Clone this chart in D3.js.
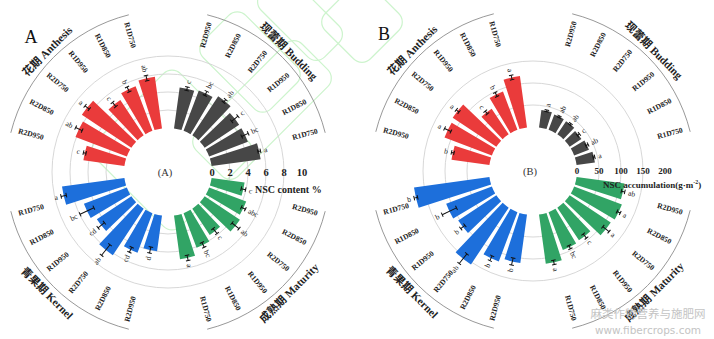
<!DOCTYPE html>
<html>
<head>
<meta charset="utf-8">
<script src="https://cdn.jsdelivr.net/npm/d3@7"></script>
<style>
  html, body { margin: 0; padding: 0; background: #fff; }
  svg { display: block; }
</style>
</head>
<body>
<svg id="chart" width="714" height="339"></svg>
<script>
// Treatments, listed clockwise inside every stage
const treatments = ["R2D950", "R2D850", "R2D750", "R1D950", "R1D850", "R1D750"];
// Growth stages, clockwise starting at the left (9 o'clock)
const stages = ["花期 Anthesis", "现蕾期 Budding", "成熟期 Maturity", "青果期 Kernel"];

// Panel A: NSC content (%)
const anthesisA = [4.6, 6.1, 6.6, 4.7, 5.3, 5.8];
const buddingA  = [4.6, 4.8, 5.2, 4.6, 4.6, 5.5];
const maturityA = [3.7, 4.4, 4.7, 3.5, 4.1, 4.9];
const kernelA   = [4.0, 4.7, 6.2, 4.6, 5.1, 7.0];
const anthesisErrA = [0.15, 0.4, 0.3, 0.3, 0.3, 0.3];
const buddingErrA  = [0.2, 0.25, 0.2, 0.45, 0.4, 0.15];
const maturityErrA = [0.25, 0.25, 0.5, 0.35, 0.3, 0.3];
const kernelErrA   = [0.35, 0.3, 0.75, 0.45, 0.85, 0.3];
const anthesisSigA = ["c", "ab", "a", "c", "b", "ab"];
const buddingSigA  = ["c", "bc", "ab", "c", "bc", "a"];
const maturitySigA = ["c", "abc", "ab", "c", "bc", "a"];
const kernelSigA   = ["d", "cd", "ab", "cd", "bc", "a"];
const ticksA = [0, 2, 4, 6, 8, 10];

// Panel B: NSC accumulation (g·m-2)
const anthesisB = [87, 115, 119, 70, 93, 118];
const buddingB  = [40, 37, 36, 32, 36, 42];
const maturityB = [110, 116, 112, 89, 92, 113];
const kernelB   = [111, 120, 155, 104, 111, 173];
const anthesisErrB = [3, 8, 4, 4, 5, 5];
const buddingErrB  = [2, 2, 2, 3, 3, 2];
const maturityErrB = [4, 4, 9, 6, 4, 5];
const kernelErrB   = [8, 6, 14, 6, 18, 4];
const anthesisSigB = ["b", "a", "a", "c", "b", "a"];
const buddingSigB  = ["a", "ab", "ab", "c", "ab", "a"];
const maturitySigB = ["ab", "a", "a", "c", "bc", "a"];
const kernelSigB   = ["b", "b", "ab", "b", "b", "b"];
const ticksB = [0, 50, 100, 150, 200];

const palette = ["#ea3b3b", "#474747", "#31a465", "#1d6fdb"];
const serif = "'Liberation Serif','Times New Roman','Noto Sans CJK SC',serif";

const svg = d3.select("#chart");
svg.append("rect").attr("width", 714).attr("height", 339).attr("fill", "#fff");

// faint site watermark outlines
const wm = svg.append("g").attr("fill", "none").attr("stroke", "#cdf4cd").attr("stroke-width", 1.2);
[[172, 150, 120, 120], [250, 62, 96, 60], [300, 18, 90, 44], [262, 110, 60, 150], [362, 22, 64, 64]]
  .forEach(([x, y, w, h]) => {
    wm.append("rect").attr("x", -w / 2).attr("y", -h / 2).attr("width", w).attr("height", h)
      .attr("rx", 12).attr("transform", `translate(${x},${y}) rotate(45)`);
  });

// one slot per bar plus an empty slot in front of each stage
const slotKeys = [];
stages.forEach((s, g) => {
  slotKeys.push("gap" + g);
  treatments.forEach(t => slotKeys.push(g + "|" + t));
});
const step = 2 * Math.PI / slotKeys.length;
const angle = d3.scaleBand()
  .domain(slotKeys)
  .range([-Math.PI / 2 - step / 2, 1.5 * Math.PI - step / 2])
  .paddingInner(0.22)
  .paddingOuter(0.11);

const deg = a => a * 180 / Math.PI;
const norm = d => ((d % 360) + 360) % 360;

// text laid along a ray, always reading left to right
function radial(sel, a, rad) {
  const d = norm(deg(a));
  const right = d < 180;
  sel.attr("transform", `translate(${rad * Math.sin(a)},${-rad * Math.cos(a)}) rotate(${right ? d - 90 : d + 90})`)
    .attr("text-anchor", right ? "start" : "end")
    .attr("dominant-baseline", "central");
}

function drawPanel(p) {
  const g = svg.append("g").attr("transform", `translate(${p.cx},${p.cy})`);
  const r = d3.scaleLinear().domain([p.ticks[0], p.ticks[p.ticks.length - 1]]).range([44, p.outer]);

  g.selectAll("circle.grid").data(p.ticks.slice(1, -1)).join("circle")
    .attr("class", "grid").attr("r", d => r(d))
    .attr("fill", "none").attr("stroke", "#d2d2d2").attr("stroke-width", 0.9);

  const rows = [];
  p.series.forEach((vals, gi) => vals.forEach((v, i) => {
    const a0 = angle(gi + "|" + treatments[i]);
    rows.push({ g: gi, t: treatments[i], v, e: p.errors[gi][i], sig: p.letters[gi][i],
      a0, a1: a0 + angle.bandwidth(), a: a0 + angle.bandwidth() / 2 });
  }));

  const arc = d3.arc().innerRadius(44).outerRadius(d => r(d.v))
    .startAngle(d => d.a0).endAngle(d => d.a1);
  g.selectAll("path.bar").data(rows).join("path")
    .attr("class", "bar").attr("d", arc).attr("fill", d => palette[d.g]);

  // error bars
  const eb = g.selectAll("g.err").data(rows).join("g")
    .attr("class", "err").attr("transform", d => `rotate(${deg(d.a)})`)
    .attr("stroke", "#111").attr("stroke-width", 1);
  eb.append("line").attr("x1", 0).attr("x2", 0)
    .attr("y1", d => -r(d.v - d.e)).attr("y2", d => -r(d.v + d.e));
  eb.append("line").attr("x1", -2.3).attr("x2", 2.3)
    .attr("y1", d => -r(d.v - d.e)).attr("y2", d => -r(d.v - d.e));
  eb.append("line").attr("x1", -2.3).attr("x2", 2.3)
    .attr("y1", d => -r(d.v + d.e)).attr("y2", d => -r(d.v + d.e));

  // significance letters
  g.selectAll("text.sig").data(rows).join("text")
    .attr("class", "sig").text(d => d.sig)
    .attr("font-family", serif).attr("font-size", 7.5).attr("fill", "#222")
    .each(function (d) { radial(d3.select(this), d.a, r(d.v + d.e) + 3.5); });

  // treatment labels
  g.selectAll("text.trt").data(rows).join("text")
    .attr("class", "trt").text(d => d.t)
    .attr("font-family", serif).attr("font-size", 7.6).attr("font-weight", "bold").attr("fill", "#222")
    .each(function (d) {
      const mid = -Math.PI / 4 + d.g * Math.PI / 2;
      radial(d3.select(this), mid + (d.a - mid) * 0.92, 129);
    });

  // stage arcs and titles
  stages.forEach((name, gi) => {
    const q0 = -Math.PI / 2 + gi * Math.PI / 2;
    const a0 = q0 + 14 * Math.PI / 180, a1 = q0 + 76 * Math.PI / 180;
    const path = d3.path();
    path.moveTo(162 * Math.sin(a0), -162 * Math.cos(a0));
    path.arc(0, 0, 162, a0 - Math.PI / 2, a1 - Math.PI / 2);
    g.append("path").attr("d", path.toString()).attr("fill", "none")
      .attr("stroke", "#8c8c8c").attr("stroke-width", 0.9);
    const mid = q0 + Math.PI / 4;
    const d = norm(deg(mid));
    const rot = (d > 90 && d < 270) ? d - 180 : d;
    g.append("text").text(name)
      .attr("transform", `translate(${171 * Math.sin(mid)},${-171 * Math.cos(mid)}) rotate(${rot})`)
      .attr("text-anchor", "middle").attr("dominant-baseline", "central")
      .attr("font-family", serif).attr("font-size", 11).attr("font-weight", "bold").attr("fill", "#222");
  });

  // value ticks along the 3 o'clock ray
  g.selectAll("text.tick").data(p.ticks).join("text")
    .attr("class", "tick").text(d => d)
    .attr("x", d => r(d)).attr("y", 0)
    .attr("text-anchor", "middle").attr("dominant-baseline", "central")
    .attr("font-family", serif).attr("font-size", p.tickSize).attr("font-weight", "bold").attr("fill", "#222");

  g.append("text").text(p.centre).attr("x", -3).attr("y", 0)
    .attr("text-anchor", "middle").attr("dominant-baseline", "central")
    .attr("font-family", serif).attr("font-size", 10.5).attr("fill", "#333");

  const title = g.append("text").attr("x", p.titleX).attr("y", p.titleY)
    .attr("dominant-baseline", "central")
    .attr("font-family", serif).attr("font-size", p.titleSize).attr("font-weight", "bold").attr("fill", "#222");
  title.append("tspan").text(p.title);
  if (p.titleSup) {
    title.append("tspan").text(p.titleSup).attr("font-size", p.titleSize * 0.65).attr("dy", -3.5);
    title.append("tspan").text(")").attr("dy", 3.5);
  }

  svg.append("text").text(p.panel).attr("x", p.panelX).attr("y", p.panelY)
    .attr("text-anchor", "middle").attr("font-family", serif).attr("font-size", 18).attr("fill", "#111");
}

drawPanel({
  cx: 168, cy: 172, outer: 134, ticks: ticksA, tickSize: 10.5,
  series: [anthesisA, buddingA, maturityA, kernelA],
  errors: [anthesisErrA, buddingErrA, maturityErrA, kernelErrA],
  letters: [anthesisSigA, buddingSigA, maturitySigA, kernelSigA],
  centre: "(A)", title: "NSC content %", titleX: 87, titleY: 17, titleSize: 10,
  panel: "A", panelX: 31, panelY: 43
});

drawPanel({
  cx: 533, cy: 171, outer: 132, ticks: ticksB, tickSize: 9,
  series: [anthesisB, buddingB, maturityB, kernelB],
  errors: [anthesisErrB, buddingErrB, maturityErrB, kernelErrB],
  letters: [anthesisSigB, buddingSigB, maturitySigB, kernelSigB],
  centre: "(B)", title: "NSC accumulation(g·m", titleSup: "-2", titleX: 70, titleY: 14, titleSize: 9,
  panel: "B", panelX: 384, panelY: 40
});

// site watermark text
svg.append("text").text("麻类作物营养与施肥网").attr("x", 648).attr("y", 313)
  .attr("text-anchor", "middle").attr("dominant-baseline", "central")
  .attr("font-family", "'Noto Sans CJK SC',sans-serif").attr("font-size", 11.5).attr("fill", "#c4c4c4");
svg.append("text").text("www.fibercrops.com").attr("x", 648).attr("y", 330)
  .attr("text-anchor", "middle").attr("dominant-baseline", "central")
  .attr("font-family", "'DejaVu Sans',sans-serif").attr("font-size", 10.5).attr("fill", "#c4c4c4");
</script>
</body>
</html>
